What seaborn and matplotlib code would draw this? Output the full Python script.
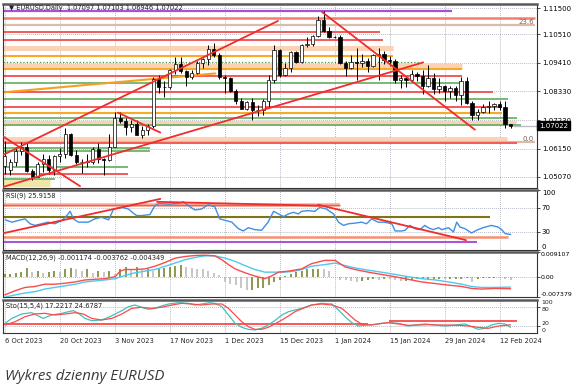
import numpy as np
import pandas as pd
import matplotlib
matplotlib.use("Agg")
import matplotlib.pyplot as plt
import seaborn as sns

# ---- daily candles, 6 Oct 2023 .. 14 Feb 2024 (bar index 0..92) ----
opens = [1.0548, 1.0535, 1.0565, 1.0605, 1.0620, 1.0530, 1.0508, 1.0557, 1.0576, 1.0535,
         1.0585, 1.0593, 1.0670, 1.0590, 1.0564, 1.0565, 1.0565, 1.0614, 1.0577, 1.0570,
         1.0620, 1.0730, 1.0720, 1.0698, 1.0710, 1.0667, 1.0684, 1.0700, 1.0880, 1.0848,
         1.0850, 1.0913, 1.0937, 1.0911, 1.0888, 1.0903, 1.0940, 1.0955, 1.0995, 1.0970,
         1.0888, 1.0884, 1.0835, 1.0795, 1.0765, 1.0792, 1.0760, 1.0763, 1.0795, 1.0875,
         1.0990, 1.0895, 1.0922, 1.0982, 1.0943, 1.1011, 1.1013, 1.1043, 1.1105, 1.1062,
         1.1039, 1.1040, 1.0940, 1.0920, 1.0946, 1.0942, 1.0950, 1.0931, 1.0972, 1.0974,
         1.0951, 1.0950, 1.0877, 1.0885, 1.0876, 1.0897, 1.0890, 1.0855, 1.0885, 1.0840,
         1.0855, 1.0833, 1.0845, 1.0818, 1.0873, 1.0790, 1.0743, 1.0755, 1.0772, 1.0778,
         1.0785, 1.0772, 1.07097]
highs = [1.0642, 1.0576, 1.0616, 1.0639, 1.0638, 1.0538, 1.0563, 1.0594, 1.0589, 1.0590,
         1.0617, 1.0695, 1.0675, 1.0608, 1.0575, 1.0595, 1.0622, 1.0638, 1.0580, 1.0670,
         1.0756, 1.0756, 1.0730, 1.0722, 1.0725, 1.0700, 1.0710, 1.0887, 1.0895, 1.0872,
         1.0917, 1.0965, 1.0965, 1.0913, 1.0915, 1.0950, 1.0960, 1.1009, 1.1017, 1.0980,
         1.0896, 1.0888, 1.0840, 1.0808, 1.0795, 1.0807, 1.0780, 1.0805, 1.0895, 1.1009,
         1.0993, 1.0940, 1.0985, 1.0985, 1.1012, 1.1040, 1.1046, 1.1121, 1.1139, 1.1077,
         1.1045, 1.1046, 1.0950, 1.0971, 1.0998, 1.0974, 1.0960, 1.0975, 1.0998, 1.0988,
         1.0966, 1.0955, 1.0894, 1.0890, 1.0916, 1.0907, 1.0915, 1.0932, 1.0904, 1.0885,
         1.0858, 1.0855, 1.0855, 1.0887, 1.0888, 1.0795, 1.0765, 1.0785, 1.0795, 1.0790,
         1.0796, 1.0795, 1.07103]
lows = [1.0520, 1.0516, 1.0548, 1.0590, 1.0525, 1.0495, 1.0505, 1.0524, 1.0520, 1.0515,
        1.0565, 1.0578, 1.0585, 1.0556, 1.0523, 1.0545, 1.0555, 1.0560, 1.0516, 1.0568,
        1.0620, 1.0712, 1.0666, 1.0677, 1.0665, 1.0656, 1.0665, 1.0694, 1.0828, 1.0813,
        1.0840, 1.0900, 1.0902, 1.0852, 1.0878, 1.0898, 1.0920, 1.0935, 1.0965, 1.0880,
        1.0827, 1.0831, 1.0785, 1.0765, 1.0760, 1.0723, 1.0740, 1.0741, 1.0773, 1.0865,
        1.0888, 1.0890, 1.0905, 1.0941, 1.0940, 1.1002, 1.1005, 1.1040, 1.1060, 1.1035,
        1.1035, 1.0937, 1.0892, 1.0917, 1.0877, 1.0924, 1.0907, 1.0925, 1.0875, 1.0937,
        1.0930, 1.0866, 1.0844, 1.0850, 1.0868, 1.0872, 1.0822, 1.0849, 1.0822, 1.0825,
        1.0795, 1.0806, 1.0795, 1.0780, 1.0785, 1.0722, 1.0723, 1.0750, 1.0750, 1.0763,
        1.0760, 1.0695, 1.06946]
closes = [1.0588, 1.0565, 1.0605, 1.0620, 1.0530, 1.0508, 1.0557, 1.0576, 1.0535, 1.0585,
          1.0593, 1.0670, 1.0590, 1.0564, 1.0565, 1.0565, 1.0614, 1.0577, 1.0570, 1.0620,
          1.0730, 1.0720, 1.0698, 1.0710, 1.0667, 1.0684, 1.0700, 1.0880, 1.0848, 1.0850,
          1.0913, 1.0937, 1.0911, 1.0888, 1.0903, 1.0940, 1.0955, 1.0995, 1.0970, 1.0888,
          1.0884, 1.0835, 1.0795, 1.0765, 1.0792, 1.0760, 1.0763, 1.0795, 1.0875, 1.0990,
          1.0895, 1.0922, 1.0982, 1.0943, 1.1011, 1.1013, 1.1043, 1.1105, 1.1062, 1.1039,
          1.1040, 1.0940, 1.0920, 1.0946, 1.0942, 1.0950, 1.0931, 1.0972, 1.0974, 1.0951,
          1.0950, 1.0877, 1.0885, 1.0876, 1.0897, 1.0890, 1.0855, 1.0885, 1.0840, 1.0855,
          1.0833, 1.0845, 1.0818, 1.0873, 1.0790, 1.0743, 1.0755, 1.0772, 1.0778, 1.0785,
          1.0772, 1.0708, 1.07022]

date_labels = ['6 Oct 2023', '20 Oct 2023', '3 Nov 2023', '17 Nov 2023', '1 Dec 2023',
               '15 Dec 2023', '1 Jan 2024', '15 Jan 2024', '29 Jan 2024', '12 Feb 2024']
price_ticks = [1.11500, 1.10510, 1.09410, 1.08330, 1.07230, 1.06150, 1.05070]
last_price = 1.07022

# horizontal levels drawn on the price chart
level_prices = [1.1138, 1.1112, 1.1085, 1.1060, 1.1028, 1.0999, 1.0966, 1.0943, 1.0928, 1.0918,
                1.0892, 1.0863, 1.0829, 1.0802, 1.0775, 1.0752, 1.0733, 1.0714, 1.0705, 1.0653,
                1.0641, 1.0637, 1.0616, 1.0605, 1.0545, 1.0519, 1.0501, 1.0483]
level_ends = [81.4, 96.5, 96.5, 68.3, 68.8, 70.6, 70.6, 75.5, 83.2, 83.2,
              83.2, 83.2, 88.8, 91.5, 90.5, 90.5, 93.2, 93.0, 93.9, 91.4,
              96.5, 93.2, 26.5, 26.5, 22.5, 22.5, 9.2, 8.3]
level_kinds = ['purple', 'salmon', 'fibo', 'red', 'red', 'band', 'orange', 'gdot', 'band', 'orange',
               'red', 'green', 'red', 'green', 'red', 'orange', 'green', 'band', 'green', 'band',
               'fibo', 'red', 'green', 'green', 'green', 'red', 'green', 'yellow']

# trend lines (bar, price)
trend_x = [(-0.3, 76.1), (-0.3, 49.7), (57.7, 85.5), (-0.3, 13.7), (20.6, 28.3)]
trend_y = [(1.0469, 1.0943), (1.0591, 1.1101), (1.1135, 1.0687), (1.0661, 1.0472), (1.0752, 1.0676)]
orange_trend_x = (-0.3, 38.3)
orange_trend_y = (1.0829, 1.0901)

# RSI(9)
rsi_bar = [0.1, 1.3, 2.5, 3.7, 4.6, 5.5, 6.7, 7.9, 9.1, 10.4, 11.3, 11.9, 12.5, 13.4, 15.2, 16.4,
           17.6, 18.9, 19.8, 21.3, 22.5, 23.4, 24.0, 24.9, 26.4, 27.3, 28.0, 29.8, 31.6, 32.5,
           33.4, 34.6, 35.8, 37.0, 38.2, 39.1, 41.3, 42.5, 43.4, 44.3, 45.5, 46.7, 47.9, 48.9,
           49.8, 50.7, 51.6, 52.5, 53.4, 54.0, 55.2, 56.4, 57.3, 58.5, 59.8, 60.7, 61.6, 62.5,
           63.7, 64.9, 65.8, 66.7, 67.9, 69.1, 70.4, 71.0, 72.2, 72.8, 73.7, 74.6, 75.5, 76.4,
           77.0, 77.9, 78.9, 79.5, 80.7, 81.6, 82.2, 82.8, 83.7, 84.9, 85.8, 87.0, 88.5, 89.7,
           90.4, 91.0, 92.0]
rsi_val = [50.3, 46.4, 49.2, 51.9, 43.7, 41.0, 43.7, 46.4, 43.7, 49.2, 57.4, 64.5, 51.9, 46.4,
           46.4, 51.9, 54.6, 50.3, 68.3, 71.0, 68.3, 61.2, 57.4, 57.4, 59.0, 73.8, 77.6, 76.5,
           77.6, 80.3, 73.8, 66.7, 68.3, 75.4, 72.1, 51.9, 46.4, 35.5, 31.7, 37.2, 33.9, 32.8,
           46.4, 64.5, 60.1, 55.7, 60.1, 62.8, 60.1, 64.5, 65.6, 64.5, 71.0, 68.3, 60.1, 46.4,
           41.0, 43.7, 44.8, 46.4, 43.7, 51.9, 46.4, 46.4, 43.7, 31.7, 31.7, 32.8, 41.0, 35.5,
           33.9, 41.0, 37.2, 33.9, 37.2, 33.9, 37.2, 30.1, 46.4, 38.3, 35.5, 28.4, 32.8, 37.2,
           41.0, 38.3, 33.9, 27.3, 25.9]
rsi_levels = [75.4, 55.7, 21.3, 13.1]
rsi_level_ends = [60.9, 88.2, 91.6, 85.8]
rsi_trend_x = [(-0.3, 28.3), (27.7, 57.4), (57.0, 83.9)]
rsi_trend_y = [(27.9, 85.2), (80.3, 73.8), (75.4, 16.4)]

# MACD(12,26,9), values in 1e-3
macd_bar = [0.0, 1.9, 3.7, 5.5, 7.3, 9.1, 11.0, 12.8, 14.6, 16.4, 18.2, 20.1, 21.0, 21.9, 23.7,
            25.5, 27.3, 29.2, 31.0, 32.8, 34.6, 36.4, 38.2, 39.5, 40.7, 41.9, 43.7, 45.5, 47.3,
            48.5, 49.8, 51.6, 54.0, 55.8, 58.2, 60.1, 61.9, 63.7, 66.1, 68.5, 70.9, 73.4, 75.8,
            78.3, 80.7, 83.1, 84.9, 86.7, 89.2, 92.0]
macd_val = [-6.62, -5.07, -3.88, -3.52, -2.69, -2.69, -2.33, -1.85, -1.13, -0.90, -0.66, 0.06,
            2.09, 2.69, 2.69, 2.92, 3.88, 5.31, 6.86, 7.46, 7.82, 7.94, 7.70, 6.27, 4.48, 2.92,
            1.49, 0.30, -0.66, 0.30, 1.73, 2.09, 2.92, 4.83, 6.03, 6.03, 3.64, 2.69, 1.73, 0.90,
            0.06, -0.90, -1.85, -2.45, -3.04, -3.52, -4.24, -4.48, -4.24, -4.35]
signal_bar = [0.0, 1.9, 3.7, 5.5, 7.3, 9.1, 11.0, 12.8, 14.6, 16.4, 18.2, 20.1, 21.9, 23.7, 25.5,
              27.3, 29.2, 31.0, 32.8, 34.6, 36.4, 38.2, 40.1, 41.9, 43.7, 45.5, 47.3, 49.1, 50.9,
              52.7, 54.0, 55.8, 58.2, 60.1, 61.9, 63.7, 66.1, 68.5, 70.9, 73.4, 75.8, 78.3, 80.7,
              83.1, 84.9, 86.7, 89.2, 92.0]
signal_val = [-7.46, -6.62, -5.91, -5.43, -4.48, -3.88, -3.28, -2.69, -1.85, -1.49, -1.13, -0.66,
              0.54, 1.49, 2.09, 2.69, 3.88, 5.07, 6.27, 7.10, 7.70, 7.70, 6.86, 5.67, 4.12, 2.69,
              1.73, 1.73, 1.73, 2.09, 2.69, 3.88, 4.48, 5.07, 4.12, 3.28, 2.45, 1.73, 0.90, 0.06,
              -0.66, -1.13, -1.85, -2.69, -3.52, -3.88, -3.88, -3.76]
macd_hist = [0.9, 1.2, 1.5, 1.7, 3.3, 1.7, 2.1, 1.5, 1.8, 2.1,
             1.7, 2.7, 3.3, 2.7, 2.1, 2.7, 1.5, 2.1, 1.7, 2.1,
             0.9, 2.7, 3.6, 2.9, 3.6, 2.7, 2.7, 2.1, 2.9, 3.3,
             3.6, 4.1, 4.5, 3.6, 3.3, 2.9, 2.7, 2.1, 1.5, 0.5,
             -1.8, -2.5, -3.0, -4.2, -4.8, -4.8, -4.2, -4.0, -3.0, -1.8,
             -1.2, 0.3, 1.0, 1.7, 2.0, 2.7, 2.7, 3.0, 2.9, 2.1,
             0.1, -1.1, -1.3, -1.5, -1.8, -1.5, -1.1, -0.9, -1.1, -0.7,
             -0.9, -1.1, -1.5, -1.5, -1.1, -0.9, -0.9, -0.9, -0.7, -0.7,
             -0.9, -0.7, -0.7, -0.7, -0.3, -1.8, -0.7, -0.4, -0.3, -0.3,
             -0.4, -0.7, -1.17]
macd_top, macd_bottom = 0.009107, -0.007379

# Stochastic(15,5,4)
sto_k_bar = [0.1, 1.3, 3.1, 4.9, 6.1, 7.0, 8.5, 10.4, 11.6, 12.5, 13.4, 14.6, 15.8, 17.6, 18.9,
             20.1, 21.3, 22.5, 23.7, 24.9, 26.1, 27.3, 28.5, 29.8, 31.6, 33.4, 34.6, 35.8, 37.3,
             38.2, 39.5, 40.7, 41.9, 43.1, 44.3, 45.5, 46.7, 47.9, 49.1, 50.4, 51.6, 52.8, 54.0,
             55.8, 57.6, 59.5, 60.7, 61.9, 63.1, 64.3, 66.1, 67.9, 69.8, 71.6, 73.4, 74.6, 76.4,
             78.3, 80.1, 81.9, 83.7, 84.9, 86.1, 87.3, 88.5, 89.8, 91.0, 92.0]
sto_k_val = [29.3, 44.4, 57.6, 61.6, 51.5, 44.4, 54.5, 59.6, 64.6, 67.7, 59.6, 44.4, 37.4, 39.4,
             47.5, 57.6, 67.7, 79.8, 84.8, 77.8, 71.7, 74.7, 81.8, 87.9, 91.9, 89.9, 84.8, 87.9,
             91.9, 89.9, 79.8, 54.5, 29.3, 17.2, 11.1, 9.1, 14.1, 24.2, 37.4, 54.5, 64.6, 69.7,
             74.7, 84.8, 89.9, 87.9, 69.7, 49.5, 31.3, 21.2, 24.2, 27.3, 31.3, 29.3, 21.2, 24.2,
             27.3, 24.2, 21.2, 24.2, 27.3, 19.2, 11.1, 14.1, 24.2, 29.3, 27.3, 17.2]
sto_d_bar = [0.1, 1.9, 3.7, 5.5, 7.3, 9.1, 11.0, 12.8, 14.3, 15.8, 17.6, 19.5, 21.3, 23.1, 24.9,
             26.7, 28.5, 30.4, 32.2, 34.0, 35.8, 37.6, 39.5, 40.7, 41.9, 43.1, 44.3, 45.5, 46.7,
             47.9, 49.1, 50.4, 51.6, 52.8, 54.0, 55.8, 57.6, 59.5, 61.3, 62.5, 63.7, 64.9, 66.7,
             68.5, 69.8, 71.6, 73.4, 75.2, 77.0, 78.8, 80.7, 82.5, 84.3, 86.1, 87.9, 89.8, 92.0]
sto_d_val = [24.2, 34.3, 49.5, 57.6, 59.6, 54.5, 57.6, 61.6, 57.6, 44.4, 39.4, 44.4, 57.6, 74.7,
             77.8, 74.7, 77.8, 84.8, 89.9, 87.9, 84.8, 87.9, 87.9, 74.7, 54.5, 34.3, 19.2, 11.1,
             11.1, 17.2, 27.3, 39.4, 51.5, 64.6, 73.0, 84.8, 87.9, 84.8, 74.7, 57.6, 39.4, 27.3,
             24.2, 29.3, 31.3, 27.3, 23.2, 24.2, 25.3, 24.2, 24.2, 23.2, 21.2, 17.2, 14.1, 21.2, 24.7]
sto_levels = [27.3, 36.4]
sto_level_x = [(-0.4, 66.0), (69.8, 93.2)]
sto_axis_values = [100, 80, 20, 0]

# ---------------------------------------------------------------
sns.set_theme(style="white")
plt.rcParams['font.family'] = ['DejaVu Sans']

W, H = 573, 386
fig = plt.figure(figsize=(W / 100, H / 100), dpi=100)
fig.patch.set_facecolor('white')

def panel(top, bottom):
    return fig.add_axes([2.5 / W, 1 - bottom / H, (537 - 2.5) / W, (bottom - top) / H])

ax = panel(4, 188)
ax_rsi = panel(190, 250)
ax_macd = panel(252, 297)
ax_sto = panel(300, 333)
axes = [ax, ax_rsi, ax_macd, ax_sto]

grid_kw = dict(color='#8e97a6', linestyle=(0, (1, 1.6)), linewidth=0.55)
xmin, xmax = -0.4, 96.8
bar_ticks = list(range(0, 91, 10))
for a in axes:
    a.set_facecolor('white')
    a.set_xlim(xmin, xmax)
    a.set_xticks(bar_ticks)
    a.grid(True, **grid_kw)
    a.set_axisbelow(True)
    a.yaxis.tick_right()
    a.tick_params(axis='y', labelsize=5, length=2, width=0.5, pad=1.5, colors='black')
    a.tick_params(axis='x', labelbottom=False, length=0)
    for side in ['left', 'right', 'bottom']:
        a.spines[side].set_color('#333333')
        a.spines[side].set_linewidth(0.8)
    a.spines['top'].set_color('#5a5a5a')
    a.spines['top'].set_linewidth(1.8)

# ---- price panel ----
level_style = {
    'purple': ('#a94fdc', 1.6, '-'),
    'salmon': ('#f3806e', 1.8, '-'),
    'fibo': ('#d9bcaa', 1.6, '-'),
    'red': ('#f25a5a', 1.4, '-'),
    'band': ('#fbd3b4', 3.6, '-'),
    'orange': ('#f7a928', 1.5, '-'),
    'green': ('#62ad5e', 1.2, '-'),
    'gdot': ('#3f9a3f', 0.9, ':'),
    'yellow': ('#efe6a8', 5.0, '-'),
}
for price, end, kind in zip(level_prices, level_ends, level_kinds):
    color, lw, ls = level_style[kind]
    ax.hlines(price, xmin, end, colors=color, linewidth=lw, linestyles=ls, zorder=1)

ax.plot(orange_trend_x, orange_trend_y, color='#f5a020', lw=1.5, zorder=2)

idx = np.arange(len(opens))
o, h, l, c = map(np.array, (opens, highs, lows, closes))
ax.vlines(idx, l, h, color='black', linewidth=0.7, zorder=3)
body_low = np.minimum(o, c)
body_h = np.maximum(np.abs(c - o), 0.00012)
fills = ['white' if cc >= oo else 'black' for oo, cc in zip(o, c)]
ax.bar(idx, body_h, bottom=body_low, width=0.6, color=fills, edgecolor='black',
       linewidth=0.5, zorder=3.5)

for tx, ty in zip(trend_x, trend_y):
    ax.plot(tx, ty, color='#f02c2c', lw=1.3, zorder=4)

ax.hlines(last_price, 92.5, xmax, colors='#b9bec6', linewidth=1.0, zorder=1)
ax.set_ylim(1.0465, 1.11653)
ax.set_yticks(price_ticks)
ax.set_yticklabels([f'{p:.5f}' for p in price_ticks])
ax.text(1.004, last_price, f'{last_price:.5f}', transform=ax.get_yaxis_transform(),
        color='white', fontsize=5, va='center', ha='left',
        bbox=dict(facecolor='black', edgecolor='black', pad=1.2), zorder=10, clip_on=False)
ax.text(96.2, 1.1085, '23.6', fontsize=5, color='#7a6250', ha='right', va='bottom')
ax.text(96.2, 1.0641, '0.0', fontsize=5, color='#7a6250', ha='right', va='bottom')
ax.text(0.012, 0.992, '\u25bc EURUSD,Daily  1.07097 1.07103 1.06946 1.07022',
        transform=ax.transAxes, fontsize=4.8, va='top', ha='left', color='#222222', zorder=6)

# ---- RSI ----
ax_rsi.hlines(rsi_levels[0], xmin, rsi_level_ends[0], colors='#f9b3a0', linewidth=2.6, zorder=1)
ax_rsi.hlines(rsi_levels[0] - 1.2, xmin, rsi_level_ends[0], colors='#f0604f', linewidth=1.0, zorder=1)
ax_rsi.hlines(rsi_levels[1], xmin, rsi_level_ends[1], colors='#7f7418', linewidth=1.5, zorder=1)
ax_rsi.hlines(rsi_levels[2], xmin, rsi_level_ends[2], colors='#f6906f', linewidth=1.8, zorder=1)
ax_rsi.hlines(rsi_levels[3], xmin, rsi_level_ends[3], colors='#a94fdc', linewidth=1.4, zorder=1)
sns.lineplot(x=rsi_bar, y=rsi_val, ax=ax_rsi, color='#3f8fe3', lw=1.0, zorder=3)
for tx, ty in zip(rsi_trend_x, rsi_trend_y):
    ax_rsi.plot(tx, ty, color='#f02c2c', lw=1.3, zorder=4)
ax_rsi.set_ylim(0, 100)
ax_rsi.set_yticks([100, 70, 30, 0])
ax_rsi.set_yticklabels(['100', '70', '30', '0'])
ax_rsi.get_yticklabels()[0].set_va('top')
ax_rsi.get_yticklabels()[3].set_va('bottom')
ax_rsi.text(0.007, 0.965, 'RSI(9) 25.9158', transform=ax_rsi.transAxes, fontsize=4.8,
            va='top', ha='left', color='#222222')

# ---- MACD ----
hist = np.array(macd_hist) * 1e-3
hist_colors = ['#6e7d22' if i == 0 or hist[i] >= hist[i - 1] else '#b8b8b8'
               for i in range(len(hist))]
ax_macd.vlines(idx, 0, hist, colors=hist_colors, linewidth=1.1, zorder=2)
sns.lineplot(x=signal_bar, y=np.array(signal_val) * 1e-3, ax=ax_macd, color='#4fc8ef', lw=1.0, zorder=3)
sns.lineplot(x=macd_bar, y=np.array(macd_val) * 1e-3, ax=ax_macd, color='#fb4b4b', lw=1.0, zorder=4)
ax_macd.set_ylim(macd_bottom, macd_top)
ax_macd.set_yticks([macd_top, 0, macd_bottom])
ax_macd.set_yticklabels(['0.009107', '0.00', '-0.007379'])
ax_macd.tick_params(axis='y', labelsize=4.5, pad=0.8)
ax_macd.get_yticklabels()[0].set_va('top')
ax_macd.get_yticklabels()[2].set_va('bottom')
ax_macd.grid(False, axis='y')
ax_macd.axhline(0, **grid_kw)
ax_macd.text(0.007, 0.95, 'MACD(12,26,9) -0.001174 -0.003762 -0.004349', transform=ax_macd.transAxes,
             fontsize=4.8, va='top', ha='left', color='#222222')

# ---- Stochastic ----
for val, (x0, x1) in zip(sto_levels, sto_level_x):
    ax_sto.hlines(val, x0, x1, colors='#f53c3c', linewidth=1.2, zorder=2)
sns.lineplot(x=sto_k_bar, y=sto_k_val, ax=ax_sto, color='#42c0bd', lw=0.9, zorder=3)
sns.lineplot(x=sto_d_bar, y=sto_d_val, ax=ax_sto, color='#fb4b4b', lw=0.9, zorder=4)
ax_sto.set_ylim(0, 100)
ax_sto.set_yticks([80, 20])
ax_sto.set_yticklabels(['', ''])
ytr = ax_sto.get_yaxis_transform()
for v, va in zip(sto_axis_values, ['top', 'top', 'bottom', 'bottom']):
    ax_sto.text(1.008, v, str(v), transform=ytr, fontsize=4.5, va=va, ha='left', clip_on=False)
ax_sto.text(0.007, 0.93, 'Sto(15,5,4) 17.2217 24.6787', transform=ax_sto.transAxes, fontsize=4.8,
            va='top', ha='left', color='#222222')
ax_sto.tick_params(axis='x', labelbottom=True, length=2, width=0.5, pad=1.5, labelsize=4.9)
ax_sto.set_xticklabels(date_labels, ha='left')

for a in axes:
    a.set_xlabel('')
    a.set_ylabel('')

fig.text(5 / W, 1 - 376 / H, 'Wykres dzienny EURUSD', fontsize=10.8, style='italic',
         color='#3a3a3a', va='center', ha='left', family=['Open Sans', 'DejaVu Sans'])

fig.savefig('out.png', dpi=100)
